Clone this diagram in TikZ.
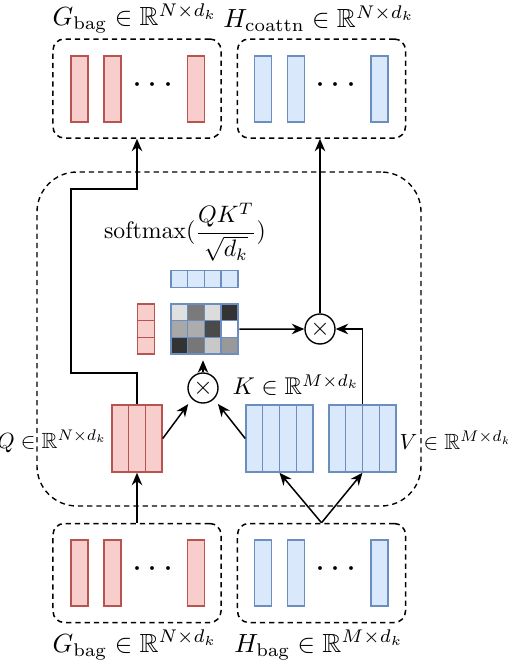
\documentclass[tikz,border=0pt]{standalone}
\usepackage{amssymb}
\usetikzlibrary{arrows.meta,fit,calc}
\definecolor{rfill}{HTML}{F8CECC}
\definecolor{rdraw}{HTML}{B85450}
\definecolor{bfill}{HTML}{DAE8FC}
\definecolor{bdraw}{HTML}{6C8EBF}
\tikzset{
  redbar/.style={draw=rdraw,fill=rfill,line width=0.6pt,minimum width=6.8pt,minimum height=26.4pt,inner sep=0},
  bluebar/.style={draw=bdraw,fill=bfill,line width=0.6pt,minimum width=6.8pt,minimum height=26.4pt,inner sep=0},
  bagbox/.style={draw,dash pattern=on 2.1pt off 1.6pt,line width=0.6pt,rounded corners=4.5pt,minimum width=67.2pt,minimum height=39.6pt,inner sep=0},
  bigbox/.style={draw,dash pattern=on 2.1pt off 1.6pt,line width=0.55pt,rounded corners=16pt,minimum width=153.6pt,minimum height=133.6pt,inner sep=0},
  qblock/.style={draw=rdraw,fill=rfill,line width=0.6pt,minimum width=20pt,minimum height=26.8pt,inner sep=0},
  kblock/.style={draw=bdraw,fill=bfill,line width=0.6pt,minimum width=26.8pt,minimum height=26.8pt,inner sep=0},
  cell/.style={draw=bdraw,line width=0.6pt,minimum width=6.7pt,minimum height=6.67pt,inner sep=0},
  rcell/.style={draw=rdraw,fill=rfill,line width=0.6pt,minimum width=6.6pt,minimum height=6.67pt,inner sep=0},
  mult/.style={draw,circle,line width=0.55pt,minimum size=12pt,inner sep=0},
  conn/.style={line width=0.6pt,-{Stealth[length=5pt,width=4.2pt]}},
  fitbox/.style={inner sep=0,draw=none},
  baglabel/.style={scale=1.05,inner sep=0pt},
  sidelabel/.style={scale=0.88,inner sep=0pt},
}
\begin{document}
\begin{tikzpicture}[x=0.4pt,y=-0.4pt]
\useasboundingbox (0,0) rectangle (508,662);
% big attention box
\node[bigbox] (attn) at (229,339) {};
% bags
\node[bagbox] (Gt) at (137,88.5) {};
\node[bagbox] (Ht) at (321.5,88.5) {};
\node[bagbox] (Gb) at (137,573) {};
\node[bagbox] (Hb) at (321.5,573) {};
\foreach \x/\n in {79.5/1,112.5/2,196/3}{
  \node[redbar] (gt\n) at (\x,89) {};
  \node[redbar] (gb\n) at (\x,573) {};
}
\foreach \x/\n in {263/1,296/2,379.5/3}{
  \node[bluebar] (ht\n) at (\x,89) {};
  \node[bluebar] (hb\n) at (\x,573) {};
}
\node (gtd) at (153,85.5) {\Large$\cdots$};
\node (htd) at (336,85.5) {\Large$\cdots$};
\node (gbd) at (153,569.5) {\Large$\cdots$};
\node (hbd) at (336,569.5) {\Large$\cdots$};
% labels of bags
\node[baglabel] (lgt) at (135,18.5) {$G_{\mathrm{bag}}\in\mathbb{R}^{N\times d_k}$};
\node[baglabel] (lht) at (319,18.5) {$H_{\mathrm{coattn}}\in\mathbb{R}^{N\times d_k}$};
\node[baglabel] (lgb) at (135,645) {$G_{\mathrm{bag}}\in\mathbb{R}^{N\times d_k}$};
\node[baglabel] (lhb) at (319,645) {$H_{\mathrm{bag}}\in\mathbb{R}^{M\times d_k}$};
% Q K V
\node[qblock] (Q) at (137,438.5) {};
\node[kblock] (K) at (279.5,438.5) {};
\node[kblock] (V) at (362.5,438.5) {};
\foreach \i in {1,2}{
  \draw[draw=rdraw,line width=0.6pt] ($(Q.south west)!\i/3!(Q.south east)$) -- ($(Q.north west)!\i/3!(Q.north east)$);
}
\foreach \i in {1,2,3}{
  \draw[draw=bdraw,line width=0.6pt] ($(K.south west)!\i/4!(K.south east)$) -- ($(K.north west)!\i/4!(K.north east)$);
  \draw[draw=bdraw,line width=0.6pt] ($(V.south west)!\i/4!(V.south east)$) -- ($(V.north west)!\i/4!(V.north east)$);
}
\node[sidelabel,anchor=east] (lq) at ([xshift=-1.6pt,yshift=-1pt]Q.west) {$Q\in\mathbb{R}^{N\times d_k}$};
\node[sidelabel,anchor=west] (lv) at ([xshift=1pt,yshift=-1pt]V.east) {$V\in\mathbb{R}^{M\times d_k}$};
\node[scale=0.97] (lk) at (296,385) {$K\in\mathbb{R}^{M\times d_k}$};
% attention matrix
\def\shades{{"E0E0E0","7A7A7A","DCDCDC","333333","A8A8A8","ACACAC","4A4A4A","FFFFFF","333333","777777","C8C8C8","999999"}}
\foreach \r in {1,2,3}{
  \foreach \c in {1,2,3,4}{
    \pgfmathsetmacro{\idx}{int((\r-1)*4+\c-1)}
    \pgfmathparse{\shades[\idx]}
    \definecolor{cc}{HTML}{\pgfmathresult}
    \node[cell,fill=cc] (m\r\c) at ({171+16.75*(\c-0.5)},{304+16.67*(\r-0.5)}) {};
  }
}
\foreach \c in {1,2,3,4}{
  \node[cell,fill=bfill] (kt\c) at ({171+16.75*(\c-0.5)},279) {};
}
\foreach \r in {1,2,3}{
  \node[rcell] (qr\r) at (146,{304+16.67*(\r-0.5)}) {};
}
\node[fitbox,fit=(m11)(m34)] (M) {};
\node[scale=0.95] (sm) at (185,232) {$\mathrm{softmax}(\displaystyle\frac{QK^T}{\sqrt{d_k}})$};
% multiplications
\node[mult] (c1) at (203,388) {$\times$};
\node[mult] (c2) at (320,329) {$\times$};
% connectors
\coordinate (qa) at (71,373);
\coordinate (qb) at (71,189);
\draw[conn] (Q.north) |- (qa) -- (qb) -| (Gt.south);
\draw[conn] (Gb.north) -- (Q.south);
\draw[conn] (Hb.north) -- (K.south);
\draw[conn] (Hb.north) -- (V.south);
\draw[conn,shorten >=2.5pt] (Q.east) -- (c1.south west);
\draw[conn,shorten >=2.5pt] (K.west) -- (c1.south east);
\draw[conn,shorten >=2pt] (c1.north) -- (c1.north |- M.south);
\draw[conn] (M.east) -- (c2.west);
\draw[conn] (V.north) |- (c2.east);
\draw[conn] (c2.north) -- (c2.north |- Ht.south);
\end{tikzpicture}
\end{document}
